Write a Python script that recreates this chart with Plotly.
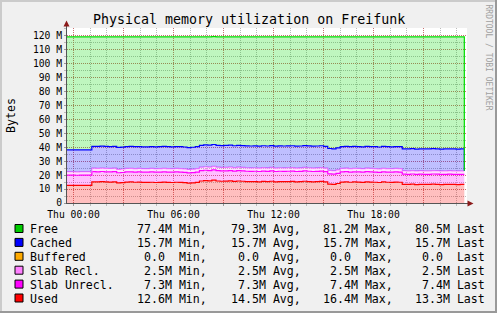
import numpy as np
import plotly.graph_objects as go

# ---------------- data (values in M) ----------------
N = 97
times = np.linspace(-0.39, 23.45, N)  # hours relative to Thu 00:00

used = [12.7, 12.7, 12.6, 12.7, 12.7, 12.7,
        15.2, 15.1, 15.3, 15.1, 15.0, 15.2,
        14.4, 14.6, 15.0,
        15.1, 14.9, 15.0, 14.8,
        14.8, 14.9, 14.7, 14.8, 15.0, 14.8, 14.7,
        14.9, 14.8, 14.6,
        14.2, 14.4, 14.8,
        15.8, 16.1, 15.9, 16.4, 15.8, 15.6,
        15.7, 15.9, 15.5, 15.8, 15.6, 15.4,
        15.3, 15.4, 15.2, 15.5, 15.3, 15.6, 15.2, 15.4, 15.3,
        15.4, 15.5, 15.2, 15.3, 15.6, 15.4, 15.2, 15.3, 15.5, 15.1,
        13.6, 13.4, 14.0,
        15.0, 15.2, 14.9, 15.1, 15.0, 14.8, 15.2, 15.0, 14.9, 14.7, 15.1, 14.9, 14.8, 15.0, 14.9,
        13.4, 13.3, 13.5, 13.2, 13.4, 13.3, 13.3, 13.5, 13.4, 13.2, 13.3, 13.4, 13.3, 13.2, 13.3, 13.3]

slab_unrecl = [7.3] * 20 + [7.4] * 43 + [7.3] * 34
slab_recl = [2.5] * N
buffered = [0.0] * N
cached = [15.7] * (N - 1) + [0.0]

free = [81.1, 81.1, 81.2, 81.1, 81.1, 81.1,
        78.6, 78.7, 78.5, 78.7, 78.8, 78.6,
        79.4, 79.2, 78.8,
        78.7, 78.9, 78.8, 79.0,
        79.0, 78.8, 79.0, 78.9, 78.7, 78.9, 79.0,
        78.8, 78.9, 79.1,
        79.5, 79.3, 78.9,
        77.9, 77.6, 77.8, 77.4, 77.9, 78.1,
        78.0, 77.8, 78.2, 77.9, 78.1, 78.3,
        78.4, 78.3, 78.5, 78.2, 78.4, 78.1, 78.5, 78.3, 78.4,
        78.3, 78.2, 78.5, 78.4, 78.1, 78.3, 78.5, 78.4, 78.2, 78.6,
        80.2, 80.4, 79.8,
        78.8, 78.6, 78.9, 78.7, 78.8, 79.0, 78.6, 78.8, 78.9, 79.1, 78.7, 78.9, 79.0, 78.8, 78.9,
        80.4, 80.5, 80.3, 80.6, 80.4, 80.5, 80.5, 80.3, 80.4, 80.6, 80.5, 80.4, 80.5, 80.6, 80.5, 0.0]

x_tickvals = [0, 3, 6, 9, 12, 15, 18, 21]
x_ticktext = ["Thu 00:00", "", "Thu 06:00", "", "Thu 12:00", "", "Thu 18:00", ""]
y_tickvals = list(range(0, 121, 10))
y_ticktext = ["0"] + [f"{v} M" for v in range(10, 121, 10)]

legend_labels = ["Free", "Cached", "Buffered", "Slab Recl.", "Slab Unrecl.", "Used"]
legend_colors = ["#00CC00", "#0000FF", "#FFAA00", "#FF80FF", "#FF00FF", "#FF0000"]
stat_min = ["77.4M", "15.7M", "0.0", "2.5M", "7.3M", "12.6M"]
stat_avg = ["79.3M", "15.7M", "0.0", "2.5M", "7.3M", "14.5M"]
stat_max = ["81.2M", "15.7M", "0.0", "2.5M", "7.4M", "16.4M"]
stat_last = ["80.5M", "15.7M", "0.0", "2.5M", "7.4M", "13.3M"]

# ---------------- geometry helpers ----------------
W, H = 497, 313
PL, PR, PT, PB = 67, 467, 28, 203
MONO = "DejaVu Sans Mono"


def px(x):
    return (x - PL) / (PR - PL)


def py(y):
    return (PB - y) / (PB - PT)


def rgba(hexc, a):
    h = hexc.lstrip("#")
    r, g, b = int(h[0:2], 16), int(h[2:4], 16), int(h[4:6], 16)
    return f"rgba({r},{g},{b},{a})"


fig = go.Figure()
series = [
    (used, "#FF0000", 1.2),
    (slab_unrecl, "#FF00FF", 1.2),
    (slab_recl, "#FF80FF", 1.2),
    (buffered, "#FFAA00", 0),
    (cached, "#0000FF", 1.2),
    (free, "#00DD00", 1.2),
]
for vals, col, lw in series:
    fig.add_trace(go.Scatter(
        x=times, y=vals, mode="lines", stackgroup="one",
        line=dict(color=col, width=lw, shape="hv"),
        fillcolor=rgba(col, 0.25), hoverinfo="skip", showlegend=False))

grid_major = "rgba(205,90,90,0.75)"
grid_minor = "rgba(140,140,140,0.6)"

fig.update_layout(
    width=W, height=H,
    margin=dict(l=PL, r=W - PR, t=PT, b=H - PB, pad=0),
    paper_bgcolor="#F0F0F0", plot_bgcolor="#FFFFFF",
    xaxis=dict(range=[-0.39, 23.61], tickmode="array", tickvals=x_tickvals,
               ticktext=x_ticktext, showgrid=True, gridcolor=grid_major,
               griddash="1px,1px", gridwidth=1, zeroline=False, showline=False,
               ticks="outside", ticklen=2, tickcolor="#999999",
               tickfont=dict(family=MONO, size=9.7, color="#000000"),
               minor=dict(dtick=1, tick0=0, showgrid=True, gridcolor=grid_minor,
                          griddash="1px,1px", ticks="outside", ticklen=2,
                          tickcolor="#bbbbbb"),
               fixedrange=True),
    yaxis=dict(range=[0, 125.6], tickmode="array", tickvals=y_tickvals,
               ticktext=y_ticktext, showgrid=True, gridcolor=grid_major,
               griddash="1px,1px", gridwidth=1, zeroline=False, showline=False,
               ticks="outside", ticklen=2, tickcolor="#999999",
               tickfont=dict(family=MONO, size=9.7, color="#000000"),
               minor=dict(dtick=5, tick0=0, showgrid=True, gridcolor=grid_minor,
                          griddash="1px,1px", ticks="outside", ticklen=2,
                          tickcolor="#bbbbbb"),
               fixedrange=True),
)

shapes = []
# outer frame (shade)
shapes.append(dict(type="rect", xref="paper", yref="paper", x0=px(0), x1=px(W), y0=py(0), y1=py(2),
                   fillcolor="#CBCBCB", line=dict(width=0), layer="above"))
shapes.append(dict(type="rect", xref="paper", yref="paper", x0=px(0), x1=px(2), y0=py(0), y1=py(H),
                   fillcolor="#CBCBCB", line=dict(width=0), layer="above"))
shapes.append(dict(type="rect", xref="paper", yref="paper", x0=px(0), x1=px(W), y0=py(H - 2), y1=py(H),
                   fillcolor="#999999", line=dict(width=0), layer="above"))
shapes.append(dict(type="rect", xref="paper", yref="paper", x0=px(W - 2), x1=px(W), y0=py(0), y1=py(H),
                   fillcolor="#999999", line=dict(width=0), layer="above"))
# axis lines
axis_col = "#555555"
shapes.append(dict(type="line", xref="paper", yref="paper", x0=px(66.5), x1=px(66.5), y0=py(203.5), y1=py(25),
                   line=dict(color=axis_col, width=1), layer="above"))
shapes.append(dict(type="line", xref="paper", yref="paper", x0=px(66), x1=px(469), y0=py(203.5), y1=py(203.5),
                   line=dict(color=axis_col, width=1), layer="above"))
# arrows
arrow_col = "#8B1A1A"
def path(pts):
    s = "M " + " L ".join(f"{px(a):.5f},{py(b):.5f}" for a, b in pts) + " Z"
    return s
shapes.append(dict(type="path", xref="paper", yref="paper", path=path([(63.5, 26.5), (66.5, 20.5), (69.5, 26.5)]),
                   fillcolor=arrow_col, line=dict(width=0), layer="above"))
shapes.append(dict(type="path", xref="paper", yref="paper", path=path([(467.5, 200.5), (473.5, 203.5), (467.5, 206.5)]),
                   fillcolor=arrow_col, line=dict(width=0), layer="above"))

annotations = []
annotations.append(dict(text="Physical memory utilization on Freifunk", xref="paper", yref="paper",
                        x=px(248.5), y=py(19.5), xanchor="center", yanchor="middle", showarrow=False,
                        font=dict(family=MONO, size=13.3, color="#000000"), borderpad=0, borderwidth=0))
annotations.append(dict(text="Bytes", xref="paper", yref="paper", x=px(10.5), y=py(115.5),
                        xanchor="center", yanchor="middle", textangle=-90, showarrow=False,
                        font=dict(family=MONO, size=11.6, color="#000000"), borderpad=0, borderwidth=0))
annotations.append(dict(text="RRDTOOL / TOBI OETIKER", xref="paper", yref="paper", x=px(488.5), y=py(57),
                        xanchor="center", yanchor="middle", textangle=90, showarrow=False,
                        font=dict(family=MONO, size=8, color="#A0A0A0"), borderpad=0, borderwidth=0))

NB = "\u00a0"


def token(val, word):
    v = val if val.endswith("M") else val + " "
    return (v.rjust(5) + " " + word).replace(" ", NB)


col_x = [137, 231, 323, 415]
words = ["Min,", "Avg,", "Max,", "Last"]
for i, lab in enumerate(legend_labels):
    ry = 229 + 13.9 * i
    shapes.append(dict(type="rect", xref="paper", yref="paper", x0=px(15), x1=px(23), y0=py(ry - 4.5),
                       y1=py(ry + 3.5), fillcolor=legend_colors[i], line=dict(color="#000000", width=1),
                       layer="above"))
    annotations.append(dict(text=lab.replace(" ", NB), xref="paper", yref="paper", x=px(30), y=py(ry),
                            xanchor="left", yanchor="middle", showarrow=False,
                            font=dict(family=MONO, size=11.6, color="#000000"), borderpad=0, borderwidth=0))
    vals = [stat_min[i], stat_avg[i], stat_max[i], stat_last[i]]
    for cx, v, w in zip(col_x, vals, words):
        annotations.append(dict(text=token(v, w), xref="paper", yref="paper", x=px(cx), y=py(ry),
                                xanchor="left", yanchor="middle", showarrow=False,
                                font=dict(family=MONO, size=11.6, color="#000000"), borderpad=0,
                                borderwidth=0))

fig.update_layout(shapes=shapes, annotations=annotations)
fig.write_html("out.html", config={"displayModeBar": False})
